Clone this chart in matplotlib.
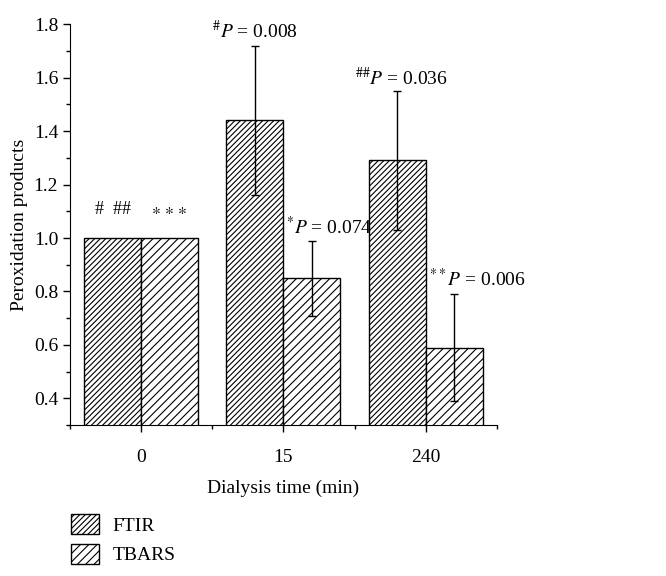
import numpy as np
import matplotlib.pyplot as plt
from matplotlib.patches import Patch
from matplotlib.ticker import MultipleLocator

plt.rcParams['font.family'] = 'Liberation Serif'
plt.rcParams['mathtext.fontset'] = 'stix'
plt.rcParams['hatch.linewidth'] = 0.8

# data
times = ['0', '15', '240']
ftir = [1.0, 1.44, 1.29]
ftir_err = [0.0, 0.28, 0.26]
tbars = [1.0, 0.85, 0.59]
tbars_err = [0.0, 0.14, 0.20]

x = np.arange(len(times))
w = 0.4

fig = plt.figure(figsize=(6.66, 5.76), dpi=100)
ax = fig.add_axes([0.105, 0.262, 0.641, 0.696])

ax.bar(x - w / 2, ftir, w, color='white', edgecolor='black',
       hatch='//////', linewidth=1.0)
ax.bar(x + w / 2, tbars, w, color='white', edgecolor='black',
       hatch='////', linewidth=1.0)

# error bars (skip the zero ones at t=0)
ax.errorbar(x[1:] - w / 2, ftir[1:], yerr=ftir_err[1:], fmt='none',
            ecolor='black', elinewidth=1.0, capsize=3)
ax.errorbar(x[1:] + w / 2, tbars[1:], yerr=tbars_err[1:], fmt='none',
            ecolor='black', elinewidth=1.0, capsize=3)

# significance labels
fs = 14
ax.text(x[0] - w / 2, 1.075, '#  ##', ha='center', va='bottom', fontsize=13)
ax.text(x[0] + w / 2, 1.065, r'${*}\ {*}\ {*}$', ha='center', va='bottom',
        fontsize=13)
ax.text(x[1] - w / 2, 1.775, r'$^{\#}\mathit{P}$ = 0.008', ha='center',
        va='center', fontsize=fs)
ax.text(x[1] + 0.02, 1.04, r'$^{*}\mathit{P}$ = 0.074', ha='left',
        va='center', fontsize=fs)
ax.text(x[2] - w / 2 + 0.03, 1.60, r'$^{\#\#}\mathit{P}$ = 0.036', ha='center',
        va='center', fontsize=fs)
ax.text(x[2] + 0.02, 0.845, r'$^{**}\mathit{P}$ = 0.006', ha='left',
        va='center', fontsize=fs, clip_on=False)

ax.set_xlim(-0.5, 2.5)
ax.set_ylim(0.3, 1.8)
ax.set_xticks(x)
ax.set_xticklabels(times)
ax.set_xticks([-0.5, 0.5, 1.5, 2.5], minor=True)
ax.yaxis.set_minor_locator(MultipleLocator(0.1))
ax.set_yticks(np.arange(0.4, 1.81, 0.2))
ax.tick_params(axis='both', which='major', labelsize=fs, length=5, width=1)
ax.tick_params(axis='both', which='minor', length=3, width=1)
ax.tick_params(axis='x', pad=12)

ax.spines['top'].set_visible(False)
ax.spines['right'].set_visible(False)

ax.set_xlabel('Dialysis time (min)', fontsize=fs, labelpad=10)
ax.set_ylabel('Peroxidation products', fontsize=fs)

handles = [Patch(facecolor='white', edgecolor='black', hatch='//////', label='FTIR'),
           Patch(facecolor='white', edgecolor='black', hatch='////', label='TBARS')]
fig.legend(handles=handles, loc='lower left', bbox_to_anchor=(0.08, -0.01),
           frameon=False, fontsize=fs, handlelength=1.45, handleheight=1.2,
           handletextpad=0.7, labelspacing=0.45)

plt.savefig('out.png', dpi=100)
